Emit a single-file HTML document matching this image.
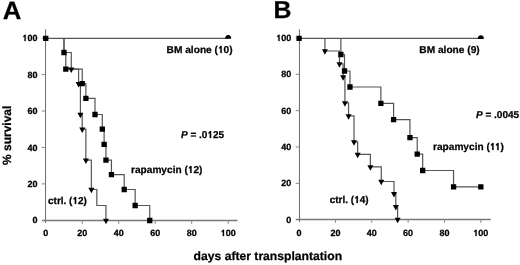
<!DOCTYPE html>
<html><head><meta charset="utf-8"><style>
html,body{margin:0;padding:0;background:#fff;}
svg{display:block;}
.tx text{font-family:"Liberation Sans",sans-serif;font-weight:bold;fill:#000;stroke:#000;stroke-width:0.25px;stroke-linejoin:round;text-rendering:geometricPrecision;}
.tx .o{fill:transparent;stroke:none;}
</style></head><body>
<svg width="520" height="265" viewBox="0 0 520 265">
<defs><filter id="bl" filterUnits="userSpaceOnUse" x="0" y="0" width="520" height="265"><feGaussianBlur stdDeviation="0.25 0.4"/></filter></defs>
<rect width="520" height="265" fill="#fff"/>
<g filter="url(#bl)">
<path d="M45.55 29.4V223.1" stroke="#6a6a6a" stroke-width="1.0" fill="none"/><path d="M41.95 220.5H237.5" stroke="#777" stroke-width="1.3" fill="none"/><path d="M41.75 183.87H45.55M41.75 147.43H45.55M41.75 110.99H45.55M41.75 74.55H45.55M41.75 38.11H45.55M82.23 220.5V223.9M118.73 220.5V223.9M155.23 220.5V223.9M191.73 220.5V223.9M228.23 220.5V223.9" stroke="#888" stroke-width="1.0" fill="none"/>
<path d="M45.73 38.3H228.23" stroke="#555" stroke-width="1.3"/>
<path d="M63.98 38.3H63.98V52.5H71.28V69.2H78.58V83.66H80.41V114.5H82.23V129.21H85.88V160.2H91.35V189.5H96.83V205.5H105.95V220.5" fill="none" stroke="#555" stroke-width="1.2"/>
<path d="M63.98 38.3H63.98V52.5H65.8V69.2H82.23V83.66H85.88V98.4H95V114.5H102.3V129.21H104.13V144.39H105.95V160.2H111.43V174.7H124.2V189.5H135.16V205.5H149.75V220.5" fill="none" stroke="#555" stroke-width="1.2"/>
<path d="M299.45 29.4V222.1" stroke="#6a6a6a" stroke-width="1.0" fill="none"/><path d="M295.85 219.5H490.7" stroke="#777" stroke-width="1.3" fill="none"/><path d="M295.65 183.32H299.45M295.65 146.98H299.45M295.65 110.65H299.45M295.65 74.31H299.45M295.65 37.98H299.45M335.43 219.5V222.9M371.78 219.5V222.9M408.13 219.5V222.9M444.48 219.5V222.9M480.83 219.5V222.9" stroke="#888" stroke-width="1.0" fill="none"/>
<path d="M299.08 38.35H480.83" stroke="#555" stroke-width="1.3"/>
<path d="M324.92 38.35H324.92V51H339.46V63.93H343.1V76.91H344.92V102.86H348.55V115.84H354V141.79H357.64V154.4H370.36V166.8H381.27V181.5H393.99V193.7H395.81V206.67H397.62V219.5" fill="none" stroke="#555" stroke-width="1.2"/>
<path d="M340.88 38.35H340.88V54.5H344.52V71.01H349.97V87H380.87V103.4H393.59V119.7H409.95V137.7H417.22V154.1H422.67V170.5H453.57V186.9H480.83" fill="none" stroke="#555" stroke-width="1.2"/>
<path d="M68.28 67.55H74.28L71.28 73.05ZM75.58 82.01H81.58L78.58 87.51ZM77.41 112.85H83.41L80.41 118.35ZM79.23 127.56H85.23L82.23 133.06ZM82.88 158.55H88.88L85.88 164.05ZM88.35 187.85H94.35L91.35 193.35ZM102.95 218.85H108.95L105.95 224.35ZM61.33 49.85h5.3v5.3h-5.3ZM63.15 66.55h5.3v5.3h-5.3ZM79.58 81.01h5.3v5.3h-5.3ZM83.23 95.75h5.3v5.3h-5.3ZM92.35 111.85h5.3v5.3h-5.3ZM99.65 126.56h5.3v5.3h-5.3ZM101.48 141.74h5.3v5.3h-5.3ZM103.3 157.55h5.3v5.3h-5.3ZM108.78 172.05h5.3v5.3h-5.3ZM121.55 186.85h5.3v5.3h-5.3ZM132.5 202.85h5.3v5.3h-5.3ZM147.1 217.85h5.3v5.3h-5.3ZM43.08 35.65h5.3v5.3h-5.3ZM225.33 38.85A3.0 3.0 0 1 1 231.13 38.85ZM321.92 49.35H327.92L324.92 54.85ZM336.46 62.28H342.46L339.46 67.78ZM340.1 75.26H346.1L343.1 80.76ZM341.92 101.21H347.92L344.92 106.71ZM345.55 114.19H351.55L348.55 119.69ZM351 140.14H357L354 145.64ZM354.64 152.75H360.64L357.64 158.25ZM367.36 165.15H373.36L370.36 170.65ZM378.27 179.85H384.27L381.27 185.35ZM390.99 192.05H396.99L393.99 197.55ZM392.81 205.02H398.81L395.81 210.52ZM394.62 217.85H400.62L397.62 223.35ZM338.23 51.85h5.3v5.3h-5.3ZM341.87 68.36h5.3v5.3h-5.3ZM347.32 84.35h5.3v5.3h-5.3ZM378.22 100.75h5.3v5.3h-5.3ZM390.94 117.05h5.3v5.3h-5.3ZM407.3 135.05h5.3v5.3h-5.3ZM414.57 151.45h5.3v5.3h-5.3ZM420.02 167.85h5.3v5.3h-5.3ZM450.92 184.25h5.3v5.3h-5.3ZM478.18 184.25h5.3v5.3h-5.3ZM296.43 35.7h5.3v5.3h-5.3ZM477.93 38.9A3.0 3.0 0 1 1 483.73 38.9Z" fill="#000"/>
<g class="tx"><text x="37.4" y="223" font-size="9" text-anchor="end">0</text>
<text x="37.4" y="187" font-size="9" text-anchor="end">20</text>
<text x="37.4" y="151" font-size="9" text-anchor="end">40</text>
<text x="37.4" y="114" font-size="9" text-anchor="end">60</text>
<text x="37.4" y="78" font-size="9" text-anchor="end">80</text>
<text x="37.4" y="41" font-size="9" text-anchor="end"><tspan class="o">1</tspan>00</text>
<text x="45.73" y="236" font-size="9" text-anchor="middle">0</text>
<text x="82.23" y="236" font-size="9" text-anchor="middle">20</text>
<text x="118.73" y="236" font-size="9" text-anchor="middle">40</text>
<text x="155.23" y="236" font-size="9" text-anchor="middle">60</text>
<text x="191.73" y="236" font-size="9" text-anchor="middle">80</text>
<text x="228.23" y="236" font-size="9" text-anchor="middle"><tspan class="o">1</tspan>00</text>
<text x="291.3" y="223" font-size="9" text-anchor="end">0</text>
<text x="291.3" y="186" font-size="9" text-anchor="end">20</text>
<text x="291.3" y="150" font-size="9" text-anchor="end">40</text>
<text x="291.3" y="114" font-size="9" text-anchor="end">60</text>
<text x="291.3" y="77" font-size="9" text-anchor="end">80</text>
<text x="291.3" y="41" font-size="9" text-anchor="end"><tspan class="o">1</tspan>00</text>
<text x="299.08" y="236" font-size="9" text-anchor="middle">0</text>
<text x="335.43" y="236" font-size="9" text-anchor="middle">20</text>
<text x="371.78" y="236" font-size="9" text-anchor="middle">40</text>
<text x="408.13" y="236" font-size="9" text-anchor="middle">60</text>
<text x="444.48" y="236" font-size="9" text-anchor="middle">80</text>
<text x="480.83" y="236" font-size="9" text-anchor="middle"><tspan class="o">1</tspan>00</text>
<text transform="translate(2.85 19) scale(1.03 1)" font-size="25">A</text>
<text transform="translate(273.5 18) scale(1.02 1)" font-size="24.4">B</text>
<text transform="translate(166.6 53) scale(1.016 1)" font-size="10">BM alone (<tspan class="o">1</tspan>0)</text>
<text transform="translate(419.3 53) scale(1.016 1)" font-size="10">BM alone (9)</text>
<text x="181" y="138" font-size="10"><tspan font-style="italic">P</tspan> = .0<tspan class="o">1</tspan>25</text>
<text x="476" y="118" font-size="10"><tspan font-style="italic">P</tspan> = .0045</text>
<text transform="translate(131 173) scale(1.012 1)" font-size="10">rapamycin (<tspan class="o">1</tspan>2)</text>
<text transform="translate(433 150) scale(1.012 1)" font-size="10">rapamycin (<tspan class="o">1</tspan><tspan class="o">1</tspan>)</text>
<text x="48" y="204" font-size="10">ctrl. (<tspan class="o">1</tspan>2)</text>
<text x="329.7" y="203" font-size="10">ctrl. (<tspan class="o">1</tspan>4)</text>
<text transform="translate(193.6 260) scale(1.012 1)" font-size="12">days after transplantation</text>
<text transform="translate(11 165) rotate(-90)" font-size="12">% survival</text></g>
<path d="M24.47 41L24.47 36.47L23.36 37.13L23.36 36.12L24.65 34.81L25.7 34.81L25.7 41ZM222.81 236L222.81 231.47L221.7 232.13L221.7 231.12L223 229.81L224.05 229.81L224.05 236ZM278.37 41L278.37 36.47L277.26 37.13L277.26 36.12L278.55 34.81L279.6 34.81L279.6 41ZM475.41 236L475.41 231.47L474.3 232.13L474.3 231.12L475.6 229.81L476.65 229.81L476.65 236ZM220.34 53L220.34 47.97L219.09 48.7L219.09 47.58L220.55 46.12L221.74 46.12L221.74 53ZM209.76 138L209.76 132.97L208.52 133.7L208.52 132.58L209.96 131.12L211.13 131.12L211.13 138ZM190.18 173L190.18 167.97L188.93 168.7L188.93 167.58L190.38 166.12L191.56 166.12L191.56 173ZM492.18 150L492.18 144.97L490.93 145.7L490.93 144.58L492.38 143.12L493.56 143.12L493.56 150ZM497.25 150L497.25 144.97L496 145.7L496 144.58L497.46 143.12L498.64 143.12L498.64 150ZM74.79 204L74.79 198.97L73.55 199.7L73.55 198.58L74.99 197.12L76.16 197.12L76.16 204ZM356.49 203L356.49 197.97L355.25 198.7L355.25 197.58L356.69 196.12L357.86 196.12L357.86 203Z" fill="#000" stroke="#000" stroke-width="0.25" stroke-linejoin="round"/>
</g>
</svg>
</body></html>
